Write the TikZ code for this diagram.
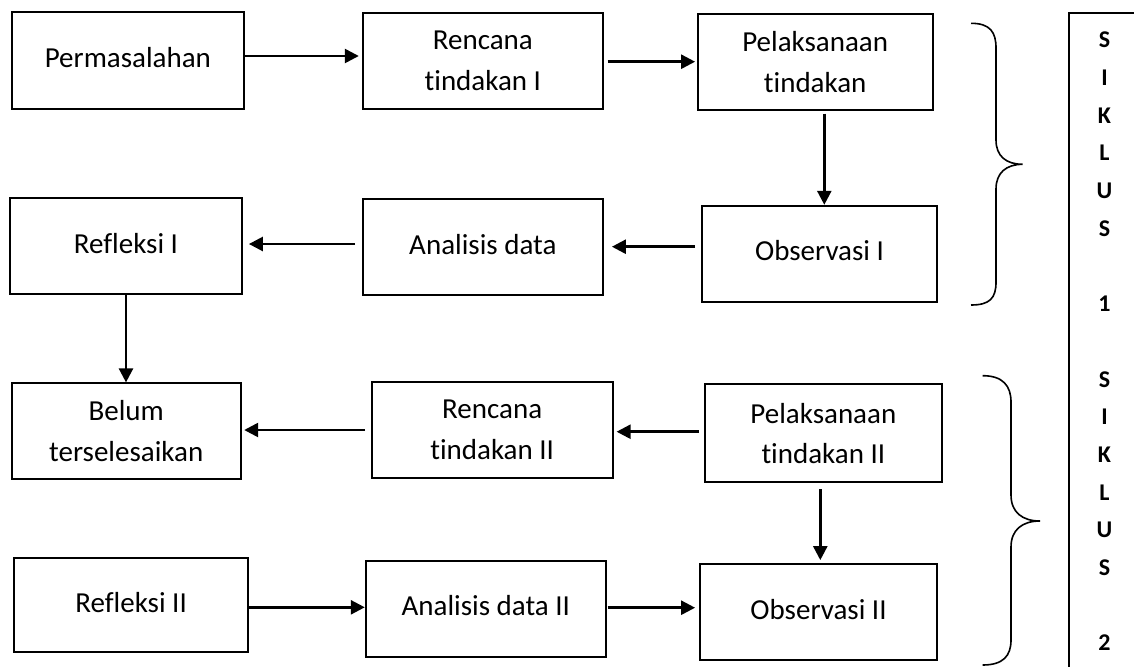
\documentclass[tikz,border=0pt]{standalone}
\usepackage{fontspec}
\setmainfont{Carlito}[Ligatures=NoCommon]
\usetikzlibrary{arrows.meta}
\begin{document}
\begin{tikzpicture}[x=1pt,y=-1pt,
  box/.style={draw, line width=1.8pt, inner sep=0pt, align=center, font=\fontsize{29}{40.5}\selectfont},
  one/.style={text depth=6pt},
  arr/.style={line width=2.5pt, -{Triangle[length=14pt,width=14pt]}},
  brc/.style={line width=1.6pt},
  sk/.style={font=\fontsize{24}{28}\selectfont\bfseries, inner sep=0pt}]
\useasboundingbox (0,0) rectangle (1134,667);

\node[box, one, minimum width=232.3pt, minimum height=97pt] (perm) at (127.85,60.2) {Permasalahan};
\node[box, minimum width=240.3pt, minimum height=96pt] (ren1) at (482.85,60.7) {Rencana\\tindakan I};
\node[box, minimum width=235pt, minimum height=96pt] (pel1) at (815.2,62) {Pelaksanaan\\tindakan};
\node[box, one, minimum width=235pt, minimum height=96pt] (obs1) at (819.5,253.7) {Observasi I};
\node[box, one, minimum width=240.3pt, minimum height=96pt] (ana1) at (482.85,247) {Analisis data};
\node[box, one, minimum width=232pt, minimum height=96pt] (ref1) at (126,246) {Refleksi I};
\node[box, minimum width=229pt, minimum height=95.4pt] (belum) at (126.2,431) {Belum\\terselesaikan};
\node[box, minimum width=241pt, minimum height=96pt] (ren2) at (492.2,429.7) {Rencana\\tindakan II};
\node[box, minimum width=236.7pt, minimum height=98pt] (pel2) at (823.35,433.3) {Pelaksanaan\\tindakan II};
\node[box, one, minimum width=234.3pt, minimum height=94pt] (ref2) at (131.15,605) {Refleksi II};
\node[box, one, minimum width=240.3pt, minimum height=96pt] (ana2) at (485.85,608.7) {Analisis data II};
\node[box, one, minimum width=237pt, minimum height=96pt] (obs2) at (818.5,612) {Observasi II};

\draw[arr, shorten >=3pt] (perm.east |- 0,56) -- (ren1.west |- 0,56);
\draw[arr, shorten <=3.7pt, shorten >=1.7pt] (ren1.east |- 0,61.7) -- (pel1.west |- 0,61.7);
\draw[arr, shorten <=2.7pt] (pel1.south -| 824.3,0) -- (obs1.north -| 824.3,0);
\draw[arr, shorten <=6pt, shorten >=8pt] (obs1.west |- 0,246.7) -- (ana1.east |- 0,246.7);
\draw[arr, shorten <=6.7pt, shorten >=6pt] (ana1.west |- 0,244) -- (ref1.east |- 0,244);
\draw[arr] (ref1.south -| 126,0) -- (belum.north -| 126,0);
\draw[arr, shorten <=5pt, shorten >=3pt] (pel2.west |- 0,431.7) -- (ren2.east |- 0,431.7);
\draw[arr, shorten <=5.7pt, shorten >=2.6pt] (ren2.west |- 0,430) -- (belum.east |- 0,430);
\draw[arr, shorten <=6pt, shorten >=3pt] (pel2.south -| 820.3,0) -- (obs2.north -| 820.3,0);
\draw[arr] (ref2.east |- 0,607.3) -- (ana2.west |- 0,607.3);
\draw[arr, shorten <=0.7pt, shorten >=4pt] (ana2.east |- 0,607.7) -- (obs2.west |- 0,607.7);

\draw[brc] (971,23.3) .. controls (990,23.3) and (996,32) .. (996,48) -- (996,140)
  .. controls (996,156) and (1006,164.3) .. (1022.7,164.3)
  .. controls (1006,164.3) and (996,173) .. (996,189) -- (996,282)
  .. controls (996,298) and (990,305) .. (971,305);
\draw[brc] (982.7,375.7) .. controls (1003,375.7) and (1011,386) .. (1011,402) -- (1011,495)
  .. controls (1011,512) and (1022,521) .. (1040,521)
  .. controls (1022,521) and (1011,530) .. (1011,547) -- (1011,640)
  .. controls (1011,656) and (1003,665) .. (982.7,665);

\draw[line width=1.8pt] (1134,12.7) -- (1069,12.7) -- (1069,667);
\foreach \i/\t in {1/S,2/I,3/K,4/L,5/U,6/S,8/1,10/S,11/I,12/K,13/L,14/U,15/S,17/2}
  \node[sk] (s\i) at (1104.5,{40+(\i-1)*37.69}) {\t};
\end{tikzpicture}
\end{document}
